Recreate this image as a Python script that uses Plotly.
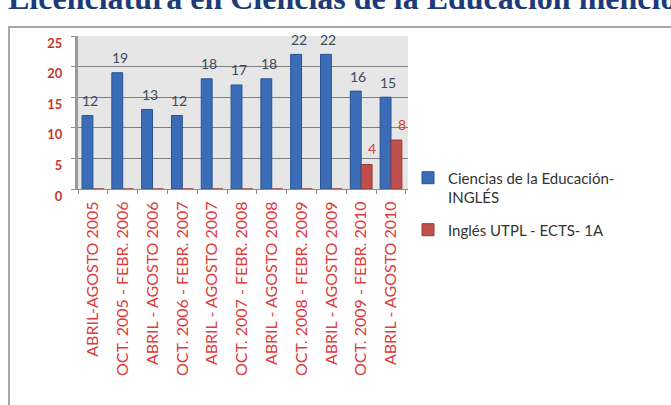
import plotly.graph_objects as go

periods = [
    "ABRIL-AGOSTO 2005",
    "OCT. 2005 - FEBR. 2006",
    "ABRIL - AGOSTO 2006",
    "OCT. 2006 - FEBR. 2007",
    "ABRIL - AGOSTO 2007",
    "OCT. 2007 - FEBR. 2008",
    "ABRIL - AGOSTO 2008",
    "OCT. 2008 - FEBR. 2009",
    "ABRIL - AGOSTO 2009",
    "OCT. 2009 - FEBR. 2010",
    "ABRIL - AGOSTO 2010",
]
ciencias_ingles = [12, 19, 13, 12, 18, 17, 18, 22, 22, 16, 15]
ingles_utpl = [0, 0, 0, 0, 0, 0, 0, 0, 0, 4, 8]
series_names = ["Ciencias de la Educación-<br>INGLÉS", "Inglés UTPL - ECTS- 1A"]
y_ticks = [0, 5, 10, 15, 20, 25]
title_text = "Licenciatura en Ciencias de la Educación mención Inglés"

BLUE = "#3b6cb8"
RED = "#c0504d"

fig = go.Figure()
fig.add_trace(go.Bar(
    x=periods, y=ciencias_ingles, name=series_names[0],
    marker=dict(color=BLUE, line=dict(color="#2b5394", width=1)),
    legendgroup="a",
))
fig.add_trace(go.Bar(
    x=periods, y=ingles_utpl, name=series_names[1],
    marker=dict(color=RED, line=dict(color="#9a3835", width=1)),
    legendgroup="b",
))

annotations = []
for p, v in zip(periods, ciencias_ingles):
    annotations.append(dict(
        x=p, y=v, xref="x", yref="y", text=str(v), showarrow=False,
        xshift=-3, yshift=15, yanchor="middle",
        font=dict(family="Lato", size=14, color="#3c4a63"),
    ))
for p, v in zip(periods, ingles_utpl):
    if v:
        annotations.append(dict(
            x=p, y=v, xref="x", yref="y", text=str(v), showarrow=False,
            xshift=11, yshift=16, yanchor="middle",
            font=dict(family="Lato", size=14, color="#d04040"),
        ))
annotations.append(dict(
    x=0, y=1, xref="paper", yref="paper", text="<b>" + title_text + "</b>",
    showarrow=False, xanchor="left", yanchor="bottom", xshift=-72, yshift=18,
    font=dict(family="Liberation Serif", size=32, color="#1c3b78"),
))

fig.update_layout(
    width=671, height=405,
    margin=dict(l=78, r=263, t=36, b=216),
    paper_bgcolor="white",
    plot_bgcolor="#e6e6e6",
    barmode="group",
    bargap=0.27,
    bargroupgap=0,
    showlegend=True,
    legend=dict(
        x=1.0, y=0.18, xanchor="left", yanchor="top",
        font=dict(family="Lato", size=15, color="#333333"),
        valign="top", tracegroupgap=10,
        bgcolor="rgba(0,0,0,0)",
    ),
    annotations=annotations,
    shapes=[dict(
        type="rect", xref="paper", yref="paper",
        x0=-0.209, x1=1.85, y0=-1.45, y1=1.059,
        line=dict(color="#a8a8a8", width=2), fillcolor="rgba(0,0,0,0)",
    )],
    xaxis=dict(
        type="category",
        showline=True, linecolor="#8c8c8c", linewidth=1,
        ticks="outside", tickson="boundaries", ticklen=4, tickcolor="#8c8c8c",
        tickangle=-90, ticklabelstandoff=5,
        tickfont=dict(family="Lato", size=16, color="#e03a3a"),
        showgrid=False,
    ),
    yaxis=dict(
        range=[0, 25], tickvals=y_ticks,
        showline=True, linecolor="#9a9a9a", linewidth=3,
        ticks="outside", ticklen=4, tickcolor="#8c8c8c",
        showgrid=True, gridcolor="#7f7f7f", gridwidth=1,
        zeroline=False,
        ticklabelshift=7, ticklabelstandoff=6,
        tickfont=dict(family="Lato", size=13, color="#c0392b", weight="bold"),
    ),
)

fig.write_html(
    "out.html",
    config={"displayModeBar": False},
    post_script="document.body.style.margin='0';",
)
